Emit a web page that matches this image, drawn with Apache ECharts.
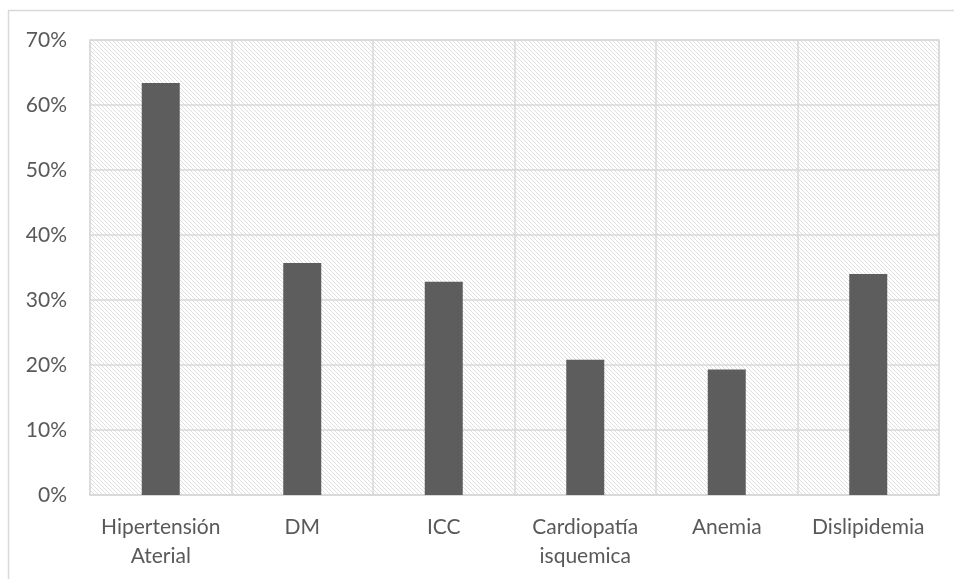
<!DOCTYPE html>
<html>
<head>
<meta charset="utf-8">
<script src="https://cdn.jsdelivr.net/npm/echarts@6/dist/echarts.min.js"></script>
<style>
html,body{margin:0;padding:0;background:#fff;}
#chart{width:954px;height:579px;}
</style>
</head>
<body>
<div id="chart"></div>
<script>
const categories = ['Hipertensión\nAterial', 'DM', 'ICC', 'Cardiopatía\nisquemica', 'Anemia', 'Dislipidemia'];
const values = [63.4, 35.7, 32.8, 20.8, 19.3, 34.0];
const yTicks = { min: 0, max: 70, interval: 10 };

// hatch pattern
const tile = document.createElement('canvas');
tile.width = 4; tile.height = 4;
const tctx = tile.getContext('2d');
tctx.fillStyle = '#ffffff';
tctx.fillRect(0, 0, 4, 4);
tctx.fillStyle = '#dfdfdf';
for (let i = 0; i < 4; i++) tctx.fillRect(i, i, 1, 1);

const chart = echarts.init(document.getElementById('chart'), null, { renderer: 'canvas' });
const font = 'Lato, "Open Sans", sans-serif';
chart.setOption({
  animation: false,
  backgroundColor: '#ffffff',
  graphic: [{
    type: 'rect', silent: true, z: -10,
    shape: { x: 8.5, y: 10.5, width: 1200, height: 1200 },
    style: { fill: 'none', stroke: '#d9d9d9', lineWidth: 1.5 }
  }],
  grid: {
    left: 90, right: 15, top: 40, bottom: 84,
    show: true,
    backgroundColor: { image: tile, repeat: 'repeat' },
    borderColor: '#d9d9d9', borderWidth: 1.5
  },
  xAxis: {
    type: 'category',
    data: categories,
    axisLine: { show: true, lineStyle: { color: '#d9d9d9', width: 1.5 } },
    axisTick: { show: false },
    splitLine: { show: true, lineStyle: { color: '#d9d9d9', width: 1.5 } },
    axisLabel: { color: '#595959', fontFamily: font, fontSize: 21, lineHeight: 29, margin: 18, interval: 0 }
  },
  yAxis: {
    type: 'value',
    min: yTicks.min, max: yTicks.max, interval: yTicks.interval,
    axisLine: { show: false },
    axisTick: { show: false },
    splitLine: { show: true, lineStyle: { color: '#d9d9d9', width: 1.5 } },
    axisLabel: { color: '#595959', fontFamily: font, fontSize: 21, margin: 23, formatter: '{value}%' }
  },
  series: [{
    type: 'bar',
    data: values,
    barWidth: 38,
    itemStyle: { color: '#5d5d5d' }
  }]
});
</script>
</body>
</html>
